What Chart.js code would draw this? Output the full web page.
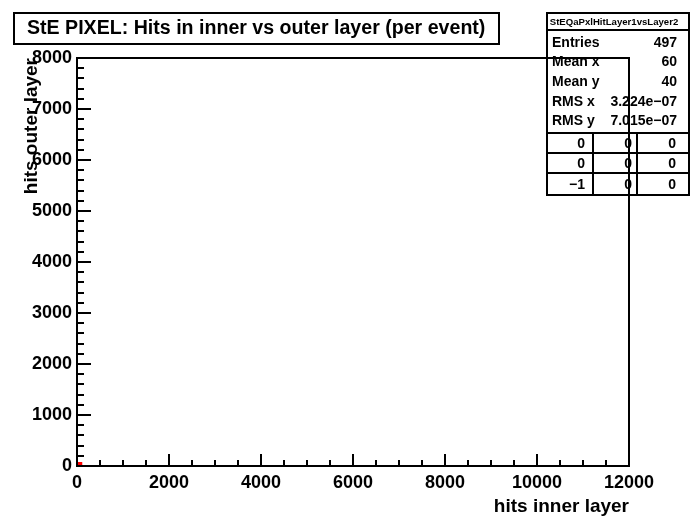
<!DOCTYPE html>
<html><head><meta charset="utf-8">
<script src="https://cdn.jsdelivr.net/npm/chart.js@4"></script>
<style>html,body{margin:0;padding:0;background:#fff}#c{display:block}</style>
</head><body>
<canvas id="c" width="690" height="526"></canvas>
<script>
// ---- data ----
const chartTitle = 'StE PIXEL: Hits in inner vs outer layer (per event)';
const xAxisTitle = 'hits inner layer';
const yAxisTitle = 'hits outer layer';
const xRange = [0, 12000];
const yRange = [0, 8000];
const xMajorTicks = [0, 2000, 4000, 6000, 8000, 10000, 12000];
const yMajorTicks = [0, 1000, 2000, 3000, 4000, 5000, 6000, 7000, 8000];
const xMinorStep = 500;
const yMinorStep = 200;
// the single filled bin (edges)
const binX = [0, 120];
const binY = [0, 80];
// stats box
const statsName = 'StEQaPxlHitLayer1vsLayer2';
const statsLabels = ['Entries', 'Mean x', 'Mean y', 'RMS x', 'RMS y'];
const statsValues = ['497', '60', '40', '3.224e\u221207', '7.015e\u221207'];
const statsGrid = [['0', '0', '0'], ['0', '0', '0'], ['\u22121', '0', '0']];

const FONT = '"Liberation Sans", Arial, Helvetica, sans-serif';

const rootPlugin = {
  id: 'rootStyle',
  beforeDraw(chart) {
    const ctx = chart.ctx;
    ctx.save();
    ctx.fillStyle = '#fff';
    ctx.fillRect(0, 0, chart.width, chart.height);
    ctx.strokeStyle = '#000';
    ctx.lineWidth = 2;
    // title box
    ctx.strokeRect(14, 13, 485, 31);
    ctx.fillStyle = '#000';
    ctx.font = 'bold 19.6px ' + FONT;
    ctx.textBaseline = 'middle';
    ctx.textAlign = 'left';
    ctx.fillText(chartTitle, 27, 29);
    // stats box
    const L = 547, R = 689, T = 13, B = 195;
    ctx.strokeRect(L, T, R - L, B - T);
    ctx.beginPath();
    ctx.moveTo(L, 30); ctx.lineTo(R, 30);
    ctx.stroke();
    ctx.font = 'bold 9.6px ' + FONT;
    ctx.textAlign = 'center';
    ctx.fillText(statsName, 614, 22);
    ctx.font = 'bold 14px ' + FONT;
    const rowY = [43, 62, 82, 102, 121];
    for (let i = 0; i < statsLabels.length; i++) {
      ctx.textAlign = 'left';
      ctx.fillText(statsLabels[i], 552, rowY[i]);
      ctx.textAlign = 'right';
      ctx.fillText(statsValues[i], 677, rowY[i]);
    }
    const gy = [133, 153, 173, 195];
    const cellRight = [585, 632, 676];
    ctx.beginPath();
    for (let j = 0; j < 3; j++) { ctx.moveTo(L, gy[j]); ctx.lineTo(R, gy[j]); }
    ctx.moveTo(593, 133); ctx.lineTo(593, B);
    ctx.moveTo(637, 133); ctx.lineTo(637, B);
    ctx.stroke();
    ctx.font = 'bold 14px ' + FONT;
    ctx.textAlign = 'right';
    for (let r = 0; r < 3; r++) {
      for (let c = 0; c < 3; c++) {
        ctx.fillText(statsGrid[r][c], cellRight[c], (gy[r] + gy[r + 1]) / 2 + 1);
      }
    }
    ctx.restore();
  },
  afterDraw(chart) {
    const ctx = chart.ctx;
    const a = chart.chartArea;
    const xs = chart.scales.x, ys = chart.scales.y;
    ctx.save();
    ctx.strokeStyle = '#000';
    ctx.lineWidth = 2;
    ctx.beginPath();
    xs.ticks.forEach(t => {
      const p = Math.round(xs.getPixelForValue(t.value));
      const len = xMajorTicks.includes(t.value) ? 12 : 6;
      ctx.moveTo(p, a.bottom); ctx.lineTo(p, a.bottom - len);
    });
    ys.ticks.forEach(t => {
      const p = Math.round(ys.getPixelForValue(t.value));
      const len = yMajorTicks.includes(t.value) ? 14 : 7;
      ctx.moveTo(a.left, p); ctx.lineTo(a.left + len, p);
    });
    ctx.stroke();
    ctx.strokeRect(Math.round(a.left), Math.round(a.top), Math.round(a.right - a.left), Math.round(a.bottom - a.top));
    ctx.restore();
  }
};

new Chart(document.getElementById('c'), {
  type: 'scatter',
  data: {
    datasets: [{
      type: 'line',
      data: [{ x: binX[0], y: binY[1] }, { x: binX[1], y: binY[1] }],
      fill: { value: binY[0] },
      backgroundColor: '#ff0000',
      borderWidth: 0,
      borderColor: 'rgba(0,0,0,0)',
      pointRadius: 0
    }]
  },
  options: {
    responsive: false,
    animation: false,
    devicePixelRatio: 1,
    layout: { padding: { top: 58, right: 61, left: 0, bottom: 0 } },
    plugins: { legend: { display: false }, tooltip: { enabled: false } },
    scales: {
      x: {
        type: 'linear', position: 'bottom', min: xRange[0], max: xRange[1],
        grid: { display: false, drawTicks: false },
        border: { display: false },
        ticks: {
          stepSize: xMinorStep, autoSkip: false, maxRotation: 0, minRotation: 0,
          padding: 6, color: '#000', font: { family: FONT, size: 18, weight: 'bold' },
          callback: v => xMajorTicks.includes(v) ? String(v) : ''
        },
        title: { display: true, text: xAxisTitle, align: 'end', color: '#000',
          font: { family: FONT, size: 19, weight: 'bold' }, padding: { top: 0, bottom: 8 } },
        afterFit: s => { s.height = 60; }
      },
      y: {
        type: 'linear', position: 'left', min: yRange[0], max: yRange[1],
        grid: { display: false, drawTicks: false },
        border: { display: false },
        ticks: {
          stepSize: yMinorStep, autoSkip: false,
          padding: 5, color: '#000', font: { family: FONT, size: 18, weight: 'bold' },
          callback: v => yMajorTicks.includes(v) ? String(v) : ''
        },
        title: { display: true, text: yAxisTitle, align: 'end', color: '#000',
          font: { family: FONT, size: 19, weight: 'bold' }, padding: { top: 20, bottom: 0 } },
        afterFit: s => { s.width = 77; }
      }
    }
  },
  plugins: [rootPlugin]
});
</script>
</body></html>
